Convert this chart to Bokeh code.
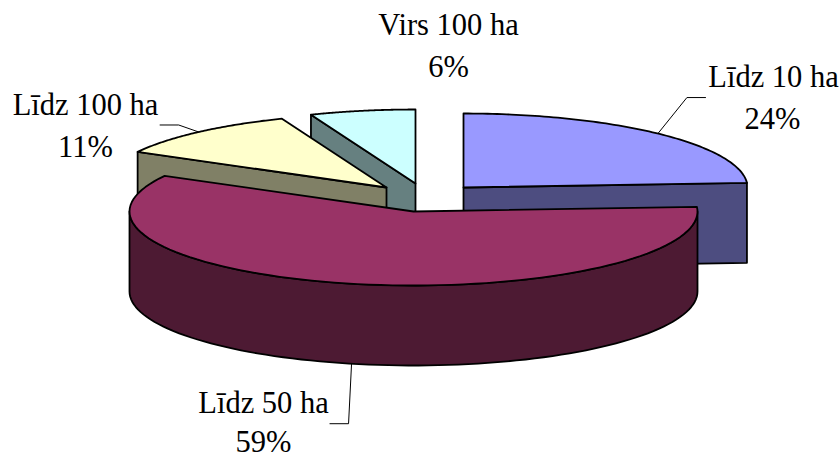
import numpy as np
from bokeh.plotting import figure
from bokeh.models import Range1d
from bokeh.core.properties import value
from bokeh.embed import file_html
from bokeh.resources import INLINE

categories = ["Līdz 10 ha", "Līdz 50 ha", "Līdz 100 ha", "Virs 100 ha"]
shares = [24, 59, 11, 6]
top_colors = ["#9999FF", "#993366", "#FFFFCC", "#CCFFFF"]
side_colors = ["#4D4D80", "#4D1A33", "#808066", "#668080"]

# layout only
apexes = [(463, 187), (413, 211), (386, 187), (415, 183)]
RX, RY, DEPTH = 284, 74, 80
label_pos = [(773, 87, 772, 129), (263, 413, 263, 452), (85, 115, 85, 157), (448, 35, 448, 77)]
TEXT_SHIFT = -11
leader_offsets = [[(29, -36), (48, -36)], [(-3, 60), (-22, 60)], [(-20, -7), (-39, -7)], None]
FONT = value("Liberation Serif")

p = figure(width=840, height=459, output_backend="svg", toolbar_location=None,
           x_range=Range1d(0, 840), y_range=Range1d(459, 0),
           min_border=0, outline_line_color=None, background_fill_color="white")
p.axis.visible = False
p.grid.visible = False


def rim(i, a0, a1, n=90, dy=0):
    t = np.radians(np.linspace(a0, a1, n))
    return apexes[i][0] + RX * np.sin(t), apexes[i][1] - RY * np.cos(t) + dy


def poly(xs, ys, color):
    p.patch(list(xs), list(ys), fill_color=color, line_color="black", line_width=1.8, line_join="round")


edges = np.concatenate([[0], np.cumsum(shares)]) * 3.6


def pt(i, a, dy=0):
    x, y = rim(i, a, a, 1, dy)
    return float(x[0]), float(y[0])


def draw_slice(i):
    a0, a1 = edges[i], edges[i + 1]
    cx, cy = apexes[i]
    # flat cut faces that look toward the viewer
    if i == 0:  # far right cut face
        e = pt(i, a1)
        poly([cx, e[0], e[0], cx], [cy, e[1], e[1] + DEPTH, cy + DEPTH], side_colors[i])
    elif i in (2, 3):  # start-edge cut face
        s = pt(i, a0)
        poly([cx, s[0], s[0], cx], [cy, s[1], s[1] + DEPTH, cy + DEPTH], side_colors[i])
    if i == 1:  # curved outer wall
        x0, y0 = rim(i, 90, 270)
        x1, y1 = rim(i, 270, 90, dy=DEPTH)
        poly(np.r_[x0, x1], np.r_[y0, y1], side_colors[i])
    x, y = rim(i, a0, a1)
    poly(np.r_[cx, x], np.r_[cy, y], top_colors[i])


for i in (3, 2, 0, 1):
    draw_slice(i)

# leader lines, anchored at each slice's mid-angle on the rim
for i, off in enumerate(leader_offsets):
    if off is None:
        continue
    mid = (edges[i] + edges[i + 1]) / 2
    sx, sy = pt(i, mid, DEPTH if i == 1 else 0)
    p.line([sx] + [sx + o[0] for o in off], [sy] + [sy + o[1] for o in off],
           line_color="black", line_width=1)

for i, name in enumerate(categories):
    x1, y1, x2, y2 = label_pos[i]
    p.text([x1], [y1 + TEXT_SHIFT], text=[name], text_font=FONT, text_font_size="30.5px",
           text_align="center", text_baseline="alphabetic", text_color="black")
    p.text([x2], [y2 + TEXT_SHIFT], text=[f"{shares[i]}%"], text_font=FONT, text_font_size="30.5px",
           text_align="center", text_baseline="alphabetic", text_color="black")

open("out.html", "w").write(file_html(p, INLINE))
